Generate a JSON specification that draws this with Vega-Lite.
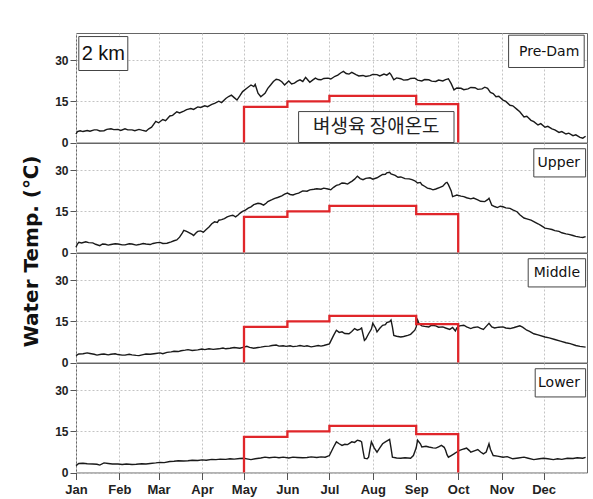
{
"$schema":"https://vega.github.io/schema/vega-lite/v6.json",
"background":"white",
"padding":{"left":20,"top":32,"right":7,"bottom":2},
"spacing":0,
"bounds":"flush",
"config":{"view":{"stroke":"#666","strokeWidth":1},"font":"Liberation Sans","concat":{"spacing":0},
 "axis":{"grid":true,"gridDash":[2,2],"gridColor":"#c4c4c4","domain":false,"tickColor":"#555","labelFont":"Liberation Sans Narrow, Liberation Sans","labelFontWeight":"bold","labelColor":"#222","title":null},
 "axisX":{"tickSize":7,"labelFontSize":13,"labelPadding":4,"labelFlush":false},
 "axisY":{"tickSize":6,"labelFontSize":12,"labelPadding":2}},
"datasets":{
"thr":[{"o":1,"d":120,"t":0},{"o":2,"d":120,"t":13},{"o":3,"d":151,"t":13},{"o":4,"d":151,"t":15},{"o":5,"d":181,"t":15},{"o":6,"d":181,"t":17},{"o":7,"d":243,"t":17},{"o":8,"d":243,"t":14},{"o":9,"d":273,"t":14},{"o":10,"d":273,"t":0}],
"obs":[
{"s":"Pre-Dam","d":0,"t":3.1},{"s":"Pre-Dam","d":1,"t":4.0},{"s":"Pre-Dam","d":3,"t":4.3},{"s":"Pre-Dam","d":5,"t":4.0},{"s":"Pre-Dam","d":8,"t":4.4},{"s":"Pre-Dam","d":10,"t":4.1},{"s":"Pre-Dam","d":13,"t":4.6},{"s":"Pre-Dam","d":15,"t":4.6},{"s":"Pre-Dam","d":17,"t":4.2},{"s":"Pre-Dam","d":20,"t":4.3},{"s":"Pre-Dam","d":22,"t":4.8},{"s":"Pre-Dam","d":25,"t":5.0},{"s":"Pre-Dam","d":27,"t":4.7},{"s":"Pre-Dam","d":30,"t":4.8},{"s":"Pre-Dam","d":32,"t":4.4},{"s":"Pre-Dam","d":35,"t":5.0},{"s":"Pre-Dam","d":37,"t":4.6},{"s":"Pre-Dam","d":40,"t":4.6},{"s":"Pre-Dam","d":42,"t":4.3},{"s":"Pre-Dam","d":45,"t":4.8},{"s":"Pre-Dam","d":47,"t":4.5},{"s":"Pre-Dam","d":50,"t":4.1},{"s":"Pre-Dam","d":52,"t":5.0},{"s":"Pre-Dam","d":54,"t":5.6},{"s":"Pre-Dam","d":57,"t":7.7},{"s":"Pre-Dam","d":59,"t":7.2},{"s":"Pre-Dam","d":62,"t":8.4},{"s":"Pre-Dam","d":64,"t":8.0},{"s":"Pre-Dam","d":67,"t":9.7},{"s":"Pre-Dam","d":69,"t":9.9},{"s":"Pre-Dam","d":72,"t":11.2},{"s":"Pre-Dam","d":74,"t":10.8},{"s":"Pre-Dam","d":77,"t":11.5},{"s":"Pre-Dam","d":79,"t":12.0},{"s":"Pre-Dam","d":82,"t":12.4},{"s":"Pre-Dam","d":84,"t":12.1},{"s":"Pre-Dam","d":87,"t":13.0},{"s":"Pre-Dam","d":89,"t":12.8},{"s":"Pre-Dam","d":92,"t":13.4},{"s":"Pre-Dam","d":94,"t":13.1},{"s":"Pre-Dam","d":97,"t":13.9},{"s":"Pre-Dam","d":99,"t":14.3},{"s":"Pre-Dam","d":102,"t":15.1},{"s":"Pre-Dam","d":104,"t":14.6},{"s":"Pre-Dam","d":107,"t":16.1},{"s":"Pre-Dam","d":109,"t":16.8},{"s":"Pre-Dam","d":111,"t":17.3},{"s":"Pre-Dam","d":113,"t":16.4},{"s":"Pre-Dam","d":115,"t":15.5},{"s":"Pre-Dam","d":117,"t":17.0},{"s":"Pre-Dam","d":119,"t":18.6},{"s":"Pre-Dam","d":122,"t":19.8},{"s":"Pre-Dam","d":125,"t":21.0},{"s":"Pre-Dam","d":127,"t":20.4},{"s":"Pre-Dam","d":128,"t":21.2},{"s":"Pre-Dam","d":130,"t":18.0},{"s":"Pre-Dam","d":132,"t":16.7},{"s":"Pre-Dam","d":135,"t":18.0},{"s":"Pre-Dam","d":137,"t":19.8},{"s":"Pre-Dam","d":139,"t":21.0},{"s":"Pre-Dam","d":141,"t":22.3},{"s":"Pre-Dam","d":143,"t":23.1},{"s":"Pre-Dam","d":145,"t":22.9},{"s":"Pre-Dam","d":147,"t":22.2},{"s":"Pre-Dam","d":149,"t":21.0},{"s":"Pre-Dam","d":151,"t":22.0},{"s":"Pre-Dam","d":152,"t":22.5},{"s":"Pre-Dam","d":154,"t":21.4},{"s":"Pre-Dam","d":156,"t":21.7},{"s":"Pre-Dam","d":158,"t":22.4},{"s":"Pre-Dam","d":160,"t":22.9},{"s":"Pre-Dam","d":162,"t":22.3},{"s":"Pre-Dam","d":164,"t":23.8},{"s":"Pre-Dam","d":165,"t":23.2},{"s":"Pre-Dam","d":167,"t":22.0},{"s":"Pre-Dam","d":169,"t":22.8},{"s":"Pre-Dam","d":171,"t":23.5},{"s":"Pre-Dam","d":173,"t":23.0},{"s":"Pre-Dam","d":175,"t":22.9},{"s":"Pre-Dam","d":177,"t":23.4},{"s":"Pre-Dam","d":180,"t":23.5},{"s":"Pre-Dam","d":182,"t":23.2},{"s":"Pre-Dam","d":185,"t":24.2},{"s":"Pre-Dam","d":187,"t":24.6},{"s":"Pre-Dam","d":189,"t":25.4},{"s":"Pre-Dam","d":191,"t":26.0},{"s":"Pre-Dam","d":193,"t":25.2},{"s":"Pre-Dam","d":195,"t":25.0},{"s":"Pre-Dam","d":197,"t":25.6},{"s":"Pre-Dam","d":200,"t":24.8},{"s":"Pre-Dam","d":202,"t":24.3},{"s":"Pre-Dam","d":205,"t":24.5},{"s":"Pre-Dam","d":207,"t":24.1},{"s":"Pre-Dam","d":210,"t":24.4},{"s":"Pre-Dam","d":212,"t":24.9},{"s":"Pre-Dam","d":215,"t":24.8},{"s":"Pre-Dam","d":217,"t":24.3},{"s":"Pre-Dam","d":220,"t":25.0},{"s":"Pre-Dam","d":222,"t":24.6},{"s":"Pre-Dam","d":224,"t":25.4},{"s":"Pre-Dam","d":225,"t":24.8},{"s":"Pre-Dam","d":227,"t":22.9},{"s":"Pre-Dam","d":229,"t":23.6},{"s":"Pre-Dam","d":232,"t":23.3},{"s":"Pre-Dam","d":234,"t":22.8},{"s":"Pre-Dam","d":237,"t":22.9},{"s":"Pre-Dam","d":239,"t":23.4},{"s":"Pre-Dam","d":242,"t":23.5},{"s":"Pre-Dam","d":244,"t":22.8},{"s":"Pre-Dam","d":247,"t":22.5},{"s":"Pre-Dam","d":249,"t":23.0},{"s":"Pre-Dam","d":252,"t":22.9},{"s":"Pre-Dam","d":254,"t":22.4},{"s":"Pre-Dam","d":257,"t":22.3},{"s":"Pre-Dam","d":259,"t":22.8},{"s":"Pre-Dam","d":262,"t":22.5},{"s":"Pre-Dam","d":264,"t":23.0},{"s":"Pre-Dam","d":266,"t":23.3},{"s":"Pre-Dam","d":268,"t":21.5},{"s":"Pre-Dam","d":270,"t":19.2},{"s":"Pre-Dam","d":272,"t":19.9},{"s":"Pre-Dam","d":275,"t":19.8},{"s":"Pre-Dam","d":277,"t":19.3},{"s":"Pre-Dam","d":280,"t":19.6},{"s":"Pre-Dam","d":282,"t":20.1},{"s":"Pre-Dam","d":285,"t":20.0},{"s":"Pre-Dam","d":287,"t":19.4},{"s":"Pre-Dam","d":290,"t":19.6},{"s":"Pre-Dam","d":292,"t":20.2},{"s":"Pre-Dam","d":294,"t":19.8},{"s":"Pre-Dam","d":296,"t":18.3},{"s":"Pre-Dam","d":298,"t":17.9},{"s":"Pre-Dam","d":300,"t":16.7},{"s":"Pre-Dam","d":302,"t":16.9},{"s":"Pre-Dam","d":305,"t":15.5},{"s":"Pre-Dam","d":307,"t":15.0},{"s":"Pre-Dam","d":310,"t":13.6},{"s":"Pre-Dam","d":312,"t":13.4},{"s":"Pre-Dam","d":315,"t":12.1},{"s":"Pre-Dam","d":317,"t":11.2},{"s":"Pre-Dam","d":320,"t":9.3},{"s":"Pre-Dam","d":322,"t":9.6},{"s":"Pre-Dam","d":325,"t":8.1},{"s":"Pre-Dam","d":327,"t":7.6},{"s":"Pre-Dam","d":330,"t":6.4},{"s":"Pre-Dam","d":332,"t":6.9},{"s":"Pre-Dam","d":335,"t":5.6},{"s":"Pre-Dam","d":337,"t":5.9},{"s":"Pre-Dam","d":340,"t":5.0},{"s":"Pre-Dam","d":342,"t":4.6},{"s":"Pre-Dam","d":345,"t":3.7},{"s":"Pre-Dam","d":347,"t":4.0},{"s":"Pre-Dam","d":350,"t":3.1},{"s":"Pre-Dam","d":352,"t":3.4},{"s":"Pre-Dam","d":355,"t":2.5},{"s":"Pre-Dam","d":357,"t":2.8},{"s":"Pre-Dam","d":360,"t":1.9},{"s":"Pre-Dam","d":362,"t":1.6},{"s":"Pre-Dam","d":364,"t":2.3},
{"s":"Upper","d":0,"t":1.9},{"s":"Upper","d":1,"t":3.1},{"s":"Upper","d":2,"t":3.7},{"s":"Upper","d":4,"t":3.5},{"s":"Upper","d":7,"t":3.9},{"s":"Upper","d":9,"t":3.6},{"s":"Upper","d":12,"t":3.5},{"s":"Upper","d":14,"t":3.0},{"s":"Upper","d":17,"t":2.5},{"s":"Upper","d":19,"t":3.1},{"s":"Upper","d":21,"t":3.0},{"s":"Upper","d":23,"t":2.7},{"s":"Upper","d":25,"t":2.9},{"s":"Upper","d":28,"t":3.2},{"s":"Upper","d":30,"t":3.1},{"s":"Upper","d":33,"t":2.8},{"s":"Upper","d":35,"t":2.8},{"s":"Upper","d":38,"t":3.2},{"s":"Upper","d":40,"t":3.1},{"s":"Upper","d":43,"t":2.7},{"s":"Upper","d":45,"t":2.9},{"s":"Upper","d":48,"t":3.3},{"s":"Upper","d":50,"t":3.1},{"s":"Upper","d":53,"t":2.9},{"s":"Upper","d":55,"t":3.3},{"s":"Upper","d":58,"t":3.6},{"s":"Upper","d":60,"t":3.7},{"s":"Upper","d":62,"t":3.3},{"s":"Upper","d":65,"t":3.4},{"s":"Upper","d":68,"t":3.9},{"s":"Upper","d":70,"t":4.3},{"s":"Upper","d":72,"t":4.6},{"s":"Upper","d":74,"t":5.6},{"s":"Upper","d":76,"t":7.2},{"s":"Upper","d":77,"t":8.1},{"s":"Upper","d":79,"t":7.7},{"s":"Upper","d":81,"t":7.2},{"s":"Upper","d":83,"t":6.6},{"s":"Upper","d":84,"t":6.2},{"s":"Upper","d":86,"t":7.3},{"s":"Upper","d":87,"t":7.7},{"s":"Upper","d":89,"t":7.9},{"s":"Upper","d":91,"t":7.4},{"s":"Upper","d":93,"t":8.4},{"s":"Upper","d":95,"t":9.3},{"s":"Upper","d":97,"t":10.5},{"s":"Upper","d":99,"t":11.2},{"s":"Upper","d":101,"t":11.0},{"s":"Upper","d":102,"t":11.8},{"s":"Upper","d":104,"t":12.0},{"s":"Upper","d":106,"t":12.4},{"s":"Upper","d":108,"t":13.0},{"s":"Upper","d":110,"t":13.4},{"s":"Upper","d":112,"t":13.6},{"s":"Upper","d":114,"t":13.0},{"s":"Upper","d":116,"t":13.8},{"s":"Upper","d":117,"t":14.3},{"s":"Upper","d":119,"t":15.0},{"s":"Upper","d":121,"t":15.5},{"s":"Upper","d":123,"t":16.2},{"s":"Upper","d":125,"t":16.7},{"s":"Upper","d":127,"t":17.5},{"s":"Upper","d":130,"t":18.0},{"s":"Upper","d":132,"t":17.8},{"s":"Upper","d":134,"t":17.3},{"s":"Upper","d":136,"t":18.1},{"s":"Upper","d":137,"t":18.6},{"s":"Upper","d":140,"t":19.3},{"s":"Upper","d":142,"t":19.8},{"s":"Upper","d":144,"t":20.1},{"s":"Upper","d":147,"t":20.7},{"s":"Upper","d":149,"t":21.3},{"s":"Upper","d":151,"t":21.7},{"s":"Upper","d":153,"t":21.2},{"s":"Upper","d":155,"t":21.0},{"s":"Upper","d":157,"t":21.4},{"s":"Upper","d":159,"t":21.7},{"s":"Upper","d":161,"t":22.2},{"s":"Upper","d":162,"t":22.5},{"s":"Upper","d":165,"t":22.4},{"s":"Upper","d":167,"t":22.9},{"s":"Upper","d":170,"t":23.1},{"s":"Upper","d":172,"t":23.3},{"s":"Upper","d":175,"t":23.1},{"s":"Upper","d":177,"t":23.5},{"s":"Upper","d":180,"t":23.2},{"s":"Upper","d":182,"t":22.9},{"s":"Upper","d":184,"t":23.8},{"s":"Upper","d":186,"t":24.5},{"s":"Upper","d":188,"t":24.8},{"s":"Upper","d":190,"t":25.4},{"s":"Upper","d":192,"t":25.3},{"s":"Upper","d":194,"t":25.0},{"s":"Upper","d":196,"t":25.7},{"s":"Upper","d":197,"t":26.0},{"s":"Upper","d":199,"t":26.8},{"s":"Upper","d":201,"t":27.9},{"s":"Upper","d":203,"t":27.0},{"s":"Upper","d":205,"t":26.6},{"s":"Upper","d":207,"t":27.1},{"s":"Upper","d":210,"t":27.3},{"s":"Upper","d":212,"t":26.8},{"s":"Upper","d":215,"t":27.3},{"s":"Upper","d":217,"t":27.9},{"s":"Upper","d":219,"t":28.5},{"s":"Upper","d":221,"t":28.6},{"s":"Upper","d":222,"t":29.1},{"s":"Upper","d":224,"t":29.3},{"s":"Upper","d":225,"t":28.7},{"s":"Upper","d":228,"t":28.2},{"s":"Upper","d":230,"t":27.5},{"s":"Upper","d":232,"t":27.6},{"s":"Upper","d":235,"t":27.0},{"s":"Upper","d":238,"t":26.9},{"s":"Upper","d":240,"t":26.6},{"s":"Upper","d":242,"t":26.2},{"s":"Upper","d":244,"t":25.4},{"s":"Upper","d":246,"t":25.6},{"s":"Upper","d":247,"t":24.8},{"s":"Upper","d":249,"t":24.2},{"s":"Upper","d":251,"t":23.5},{"s":"Upper","d":253,"t":23.3},{"s":"Upper","d":255,"t":22.9},{"s":"Upper","d":257,"t":23.2},{"s":"Upper","d":260,"t":23.8},{"s":"Upper","d":262,"t":24.2},{"s":"Upper","d":264,"t":25.4},{"s":"Upper","d":265,"t":25.6},{"s":"Upper","d":266,"t":24.8},{"s":"Upper","d":268,"t":22.5},{"s":"Upper","d":269,"t":20.4},{"s":"Upper","d":271,"t":20.8},{"s":"Upper","d":272,"t":21.0},{"s":"Upper","d":275,"t":20.6},{"s":"Upper","d":277,"t":20.4},{"s":"Upper","d":279,"t":20.0},{"s":"Upper","d":282,"t":19.6},{"s":"Upper","d":284,"t":19.9},{"s":"Upper","d":287,"t":19.2},{"s":"Upper","d":289,"t":18.7},{"s":"Upper","d":292,"t":18.6},{"s":"Upper","d":294,"t":19.3},{"s":"Upper","d":295,"t":19.8},{"s":"Upper","d":297,"t":17.3},{"s":"Upper","d":299,"t":16.8},{"s":"Upper","d":301,"t":16.4},{"s":"Upper","d":303,"t":16.9},{"s":"Upper","d":305,"t":16.7},{"s":"Upper","d":307,"t":16.3},{"s":"Upper","d":310,"t":16.1},{"s":"Upper","d":312,"t":15.6},{"s":"Upper","d":315,"t":14.9},{"s":"Upper","d":317,"t":13.8},{"s":"Upper","d":320,"t":12.6},{"s":"Upper","d":322,"t":12.3},{"s":"Upper","d":325,"t":11.8},{"s":"Upper","d":327,"t":11.3},{"s":"Upper","d":330,"t":10.5},{"s":"Upper","d":332,"t":9.9},{"s":"Upper","d":335,"t":8.9},{"s":"Upper","d":337,"t":8.7},{"s":"Upper","d":340,"t":8.4},{"s":"Upper","d":342,"t":8.0},{"s":"Upper","d":345,"t":7.7},{"s":"Upper","d":347,"t":7.2},{"s":"Upper","d":350,"t":6.8},{"s":"Upper","d":352,"t":6.6},{"s":"Upper","d":355,"t":6.2},{"s":"Upper","d":357,"t":5.9},{"s":"Upper","d":360,"t":5.6},{"s":"Upper","d":362,"t":5.5},{"s":"Upper","d":364,"t":5.8},
{"s":"Middle","d":0,"t":2.5},{"s":"Middle","d":2,"t":3.1},{"s":"Middle","d":5,"t":3.2},{"s":"Middle","d":8,"t":3.5},{"s":"Middle","d":10,"t":3.3},{"s":"Middle","d":13,"t":3.0},{"s":"Middle","d":15,"t":2.7},{"s":"Middle","d":18,"t":3.0},{"s":"Middle","d":20,"t":3.1},{"s":"Middle","d":23,"t":2.8},{"s":"Middle","d":25,"t":3.0},{"s":"Middle","d":28,"t":3.2},{"s":"Middle","d":30,"t":2.9},{"s":"Middle","d":33,"t":2.7},{"s":"Middle","d":35,"t":2.7},{"s":"Middle","d":38,"t":3.0},{"s":"Middle","d":40,"t":2.8},{"s":"Middle","d":43,"t":2.6},{"s":"Middle","d":45,"t":2.5},{"s":"Middle","d":48,"t":2.9},{"s":"Middle","d":50,"t":3.1},{"s":"Middle","d":53,"t":3.0},{"s":"Middle","d":57,"t":3.3},{"s":"Middle","d":60,"t":3.5},{"s":"Middle","d":62,"t":3.2},{"s":"Middle","d":65,"t":3.7},{"s":"Middle","d":68,"t":3.9},{"s":"Middle","d":70,"t":4.1},{"s":"Middle","d":73,"t":4.0},{"s":"Middle","d":75,"t":4.3},{"s":"Middle","d":78,"t":4.5},{"s":"Middle","d":80,"t":4.7},{"s":"Middle","d":83,"t":4.4},{"s":"Middle","d":87,"t":4.6},{"s":"Middle","d":90,"t":4.9},{"s":"Middle","d":92,"t":4.7},{"s":"Middle","d":95,"t":5.0},{"s":"Middle","d":98,"t":4.8},{"s":"Middle","d":102,"t":5.0},{"s":"Middle","d":105,"t":5.3},{"s":"Middle","d":107,"t":5.0},{"s":"Middle","d":110,"t":5.2},{"s":"Middle","d":113,"t":5.5},{"s":"Middle","d":117,"t":5.2},{"s":"Middle","d":120,"t":5.6},{"s":"Middle","d":122,"t":5.9},{"s":"Middle","d":124,"t":5.5},{"s":"Middle","d":127,"t":5.2},{"s":"Middle","d":130,"t":5.5},{"s":"Middle","d":132,"t":5.6},{"s":"Middle","d":135,"t":5.9},{"s":"Middle","d":138,"t":6.0},{"s":"Middle","d":140,"t":6.2},{"s":"Middle","d":143,"t":6.4},{"s":"Middle","d":145,"t":6.0},{"s":"Middle","d":148,"t":6.1},{"s":"Middle","d":150,"t":5.9},{"s":"Middle","d":153,"t":6.1},{"s":"Middle","d":155,"t":5.8},{"s":"Middle","d":158,"t":6.0},{"s":"Middle","d":160,"t":6.2},{"s":"Middle","d":163,"t":5.9},{"s":"Middle","d":165,"t":6.1},{"s":"Middle","d":168,"t":5.7},{"s":"Middle","d":170,"t":5.9},{"s":"Middle","d":173,"t":6.2},{"s":"Middle","d":175,"t":6.0},{"s":"Middle","d":177,"t":6.2},{"s":"Middle","d":181,"t":6.8},{"s":"Middle","d":184,"t":9.9},{"s":"Middle","d":186,"t":11.8},{"s":"Middle","d":188,"t":11.0},{"s":"Middle","d":190,"t":11.2},{"s":"Middle","d":192,"t":10.6},{"s":"Middle","d":195,"t":10.5},{"s":"Middle","d":197,"t":11.3},{"s":"Middle","d":199,"t":12.4},{"s":"Middle","d":201,"t":11.8},{"s":"Middle","d":203,"t":12.2},{"s":"Middle","d":204,"t":12.6},{"s":"Middle","d":206,"t":8.1},{"s":"Middle","d":207,"t":8.6},{"s":"Middle","d":209,"t":10.5},{"s":"Middle","d":211,"t":12.2},{"s":"Middle","d":212,"t":14.3},{"s":"Middle","d":214,"t":12.6},{"s":"Middle","d":215,"t":11.2},{"s":"Middle","d":217,"t":12.5},{"s":"Middle","d":219,"t":13.6},{"s":"Middle","d":221,"t":13.8},{"s":"Middle","d":222,"t":14.6},{"s":"Middle","d":224,"t":14.9},{"s":"Middle","d":225,"t":15.5},{"s":"Middle","d":226,"t":13.0},{"s":"Middle","d":227,"t":9.9},{"s":"Middle","d":229,"t":9.6},{"s":"Middle","d":232,"t":9.3},{"s":"Middle","d":234,"t":9.5},{"s":"Middle","d":237,"t":9.9},{"s":"Middle","d":239,"t":10.3},{"s":"Middle","d":242,"t":11.8},{"s":"Middle","d":243,"t":13.0},{"s":"Middle","d":244,"t":15.5},{"s":"Middle","d":245,"t":14.2},{"s":"Middle","d":247,"t":13.4},{"s":"Middle","d":249,"t":13.2},{"s":"Middle","d":252,"t":13.0},{"s":"Middle","d":254,"t":13.6},{"s":"Middle","d":257,"t":13.4},{"s":"Middle","d":259,"t":12.9},{"s":"Middle","d":262,"t":13.0},{"s":"Middle","d":264,"t":12.6},{"s":"Middle","d":267,"t":12.1},{"s":"Middle","d":269,"t":12.8},{"s":"Middle","d":271,"t":11.5},{"s":"Middle","d":272,"t":12.6},{"s":"Middle","d":274,"t":13.4},{"s":"Middle","d":277,"t":13.6},{"s":"Middle","d":279,"t":13.0},{"s":"Middle","d":282,"t":12.4},{"s":"Middle","d":284,"t":12.8},{"s":"Middle","d":287,"t":13.0},{"s":"Middle","d":289,"t":12.5},{"s":"Middle","d":291,"t":12.1},{"s":"Middle","d":293,"t":13.2},{"s":"Middle","d":295,"t":14.3},{"s":"Middle","d":297,"t":13.0},{"s":"Middle","d":299,"t":12.6},{"s":"Middle","d":302,"t":12.9},{"s":"Middle","d":305,"t":13.0},{"s":"Middle","d":307,"t":12.6},{"s":"Middle","d":310,"t":12.4},{"s":"Middle","d":313,"t":12.8},{"s":"Middle","d":317,"t":13.4},{"s":"Middle","d":319,"t":12.9},{"s":"Middle","d":322,"t":11.8},{"s":"Middle","d":324,"t":11.4},{"s":"Middle","d":327,"t":10.5},{"s":"Middle","d":330,"t":10.1},{"s":"Middle","d":335,"t":9.3},{"s":"Middle","d":338,"t":9.0},{"s":"Middle","d":342,"t":8.4},{"s":"Middle","d":346,"t":7.8},{"s":"Middle","d":350,"t":7.2},{"s":"Middle","d":353,"t":6.9},{"s":"Middle","d":357,"t":6.2},{"s":"Middle","d":360,"t":5.9},{"s":"Middle","d":364,"t":5.6},
{"s":"Lower","d":0,"t":2.5},{"s":"Lower","d":2,"t":3.3},{"s":"Lower","d":5,"t":3.4},{"s":"Lower","d":8,"t":3.2},{"s":"Lower","d":12,"t":3.1},{"s":"Lower","d":15,"t":3.0},{"s":"Lower","d":17,"t":2.7},{"s":"Lower","d":20,"t":3.5},{"s":"Lower","d":23,"t":3.3},{"s":"Lower","d":26,"t":3.1},{"s":"Lower","d":30,"t":3.1},{"s":"Lower","d":33,"t":2.9},{"s":"Lower","d":36,"t":3.1},{"s":"Lower","d":40,"t":2.9},{"s":"Lower","d":43,"t":3.0},{"s":"Lower","d":47,"t":3.2},{"s":"Lower","d":50,"t":3.1},{"s":"Lower","d":53,"t":3.3},{"s":"Lower","d":57,"t":3.5},{"s":"Lower","d":60,"t":3.7},{"s":"Lower","d":63,"t":3.6},{"s":"Lower","d":67,"t":4.0},{"s":"Lower","d":70,"t":4.1},{"s":"Lower","d":73,"t":4.3},{"s":"Lower","d":77,"t":4.2},{"s":"Lower","d":80,"t":4.3},{"s":"Lower","d":83,"t":4.5},{"s":"Lower","d":87,"t":4.4},{"s":"Lower","d":90,"t":4.6},{"s":"Lower","d":93,"t":4.5},{"s":"Lower","d":97,"t":4.8},{"s":"Lower","d":100,"t":4.7},{"s":"Lower","d":103,"t":4.9},{"s":"Lower","d":107,"t":4.8},{"s":"Lower","d":110,"t":5.0},{"s":"Lower","d":113,"t":4.9},{"s":"Lower","d":117,"t":5.1},{"s":"Lower","d":120,"t":5.2},{"s":"Lower","d":122,"t":5.0},{"s":"Lower","d":125,"t":4.7},{"s":"Lower","d":128,"t":5.0},{"s":"Lower","d":132,"t":5.3},{"s":"Lower","d":135,"t":5.6},{"s":"Lower","d":138,"t":5.4},{"s":"Lower","d":142,"t":5.6},{"s":"Lower","d":145,"t":5.4},{"s":"Lower","d":148,"t":5.6},{"s":"Lower","d":152,"t":5.3},{"s":"Lower","d":155,"t":5.6},{"s":"Lower","d":158,"t":5.5},{"s":"Lower","d":162,"t":5.4},{"s":"Lower","d":165,"t":5.5},{"s":"Lower","d":168,"t":5.7},{"s":"Lower","d":172,"t":5.5},{"s":"Lower","d":175,"t":5.7},{"s":"Lower","d":178,"t":5.6},{"s":"Lower","d":181,"t":6.2},{"s":"Lower","d":184,"t":9.3},{"s":"Lower","d":186,"t":11.2},{"s":"Lower","d":188,"t":10.5},{"s":"Lower","d":190,"t":9.9},{"s":"Lower","d":192,"t":10.3},{"s":"Lower","d":194,"t":10.2},{"s":"Lower","d":197,"t":11.2},{"s":"Lower","d":199,"t":11.0},{"s":"Lower","d":201,"t":11.8},{"s":"Lower","d":203,"t":11.5},{"s":"Lower","d":204,"t":11.2},{"s":"Lower","d":205,"t":8.0},{"s":"Lower","d":206,"t":5.2},{"s":"Lower","d":208,"t":5.0},{"s":"Lower","d":209,"t":5.6},{"s":"Lower","d":210,"t":8.5},{"s":"Lower","d":211,"t":11.2},{"s":"Lower","d":213,"t":9.0},{"s":"Lower","d":215,"t":7.4},{"s":"Lower","d":217,"t":9.0},{"s":"Lower","d":219,"t":10.5},{"s":"Lower","d":221,"t":11.2},{"s":"Lower","d":224,"t":12.1},{"s":"Lower","d":225,"t":9.0},{"s":"Lower","d":226,"t":5.6},{"s":"Lower","d":229,"t":5.3},{"s":"Lower","d":232,"t":5.2},{"s":"Lower","d":235,"t":5.4},{"s":"Lower","d":239,"t":5.2},{"s":"Lower","d":241,"t":6.2},{"s":"Lower","d":243,"t":9.0},{"s":"Lower","d":244,"t":11.8},{"s":"Lower","d":246,"t":10.5},{"s":"Lower","d":247,"t":9.3},{"s":"Lower","d":250,"t":9.6},{"s":"Lower","d":252,"t":9.3},{"s":"Lower","d":255,"t":9.0},{"s":"Lower","d":257,"t":8.9},{"s":"Lower","d":259,"t":9.4},{"s":"Lower","d":261,"t":9.9},{"s":"Lower","d":263,"t":9.2},{"s":"Lower","d":264,"t":8.1},{"s":"Lower","d":265,"t":6.5},{"s":"Lower","d":266,"t":5.6},{"s":"Lower","d":268,"t":6.2},{"s":"Lower","d":270,"t":6.8},{"s":"Lower","d":272,"t":7.5},{"s":"Lower","d":274,"t":8.1},{"s":"Lower","d":277,"t":8.6},{"s":"Lower","d":279,"t":8.9},{"s":"Lower","d":281,"t":8.0},{"s":"Lower","d":282,"t":7.4},{"s":"Lower","d":285,"t":8.0},{"s":"Lower","d":287,"t":8.4},{"s":"Lower","d":289,"t":7.5},{"s":"Lower","d":291,"t":6.8},{"s":"Lower","d":293,"t":7.5},{"s":"Lower","d":295,"t":10.5},{"s":"Lower","d":296,"t":8.5},{"s":"Lower","d":298,"t":6.2},{"s":"Lower","d":301,"t":6.0},{"s":"Lower","d":305,"t":5.6},{"s":"Lower","d":308,"t":5.8},{"s":"Lower","d":312,"t":5.0},{"s":"Lower","d":316,"t":5.3},{"s":"Lower","d":320,"t":5.6},{"s":"Lower","d":323,"t":5.2},{"s":"Lower","d":327,"t":4.7},{"s":"Lower","d":331,"t":5.0},{"s":"Lower","d":334,"t":5.2},{"s":"Lower","d":337,"t":5.0},{"s":"Lower","d":341,"t":4.7},{"s":"Lower","d":344,"t":5.0},{"s":"Lower","d":347,"t":4.8},{"s":"Lower","d":351,"t":5.2},{"s":"Lower","d":355,"t":5.1},{"s":"Lower","d":358,"t":5.4},{"s":"Lower","d":362,"t":5.2},{"s":"Lower","d":364,"t":5.5}
]},
"vconcat":[
 {"width":511,"height":109.5,
  "layer":[
   {"data":{"name":"obs"},"transform":[{"filter":"datum.s=='Pre-Dam'"}],"mark":{"type":"line","color":"#1a1a1a","strokeWidth":1.4},
    "encoding":{"x":{"field":"d","type":"quantitative","scale":{"domain":[0,365],"nice":false,"zero":false},"axis":{"values":[0,31,59,90,120,151,181,212,243,273,304,334],"labels":false,"ticks":false,"tickSize":0,"labelPadding":0}},
     "y":{"field":"t","type":"quantitative","scale":{"domain":[0,40],"nice":false},"axis":{"values":[0,15,30]}}}},
   {"data":{"name":"thr"},"mark":{"type":"line","color":"#e0262a","strokeWidth":2.3},"encoding":{"x":{"field":"d","type":"quantitative"},"y":{"field":"t","type":"quantitative"},"order":{"field":"o","type":"quantitative"}}},
   {"data":{"values":[{"txt":"Pre-Dam"}]},"mark":{"type":"rect","fill":"white","stroke":"#444","strokeWidth":1},
    "encoding":{"x":{"datum":309,"type":"quantitative"},"x2":{"datum":363},"y":{"datum":27.4,"type":"quantitative"},"y2":{"datum":39.2}}},
   {"data":{"values":[{"txt":"Pre-Dam"}]},"mark":{"type":"text","align":"right","baseline":"middle","font":"DejaVu Sans","fontSize":14,"color":"#111"},
    "encoding":{"x":{"datum":359.5,"type":"quantitative"},"y":{"datum":33.2,"type":"quantitative"},"text":{"field":"txt"}}},
   {"data":{"values":[{"txt":"2 km"}]},"mark":{"type":"rect","fill":"white","stroke":"#444","strokeWidth":1},
    "encoding":{"x":{"datum":2,"type":"quantitative"},"x2":{"datum":37},"y":{"datum":26.3,"type":"quantitative"},"y2":{"datum":38.7}}},
   {"data":{"values":[{"txt":"2 km"}]},"mark":{"type":"text","align":"center","baseline":"middle","font":"Liberation Sans","fontSize":20,"color":"#111"},
    "encoding":{"x":{"datum":19.5,"type":"quantitative"},"y":{"datum":32.5,"type":"quantitative"},"text":{"field":"txt"}}},
   {"data":{"values":[{"txt":"벼생육 장애온도"}]},"mark":{"type":"rect","fill":"white","stroke":"#444","strokeWidth":1},
    "encoding":{"x":{"datum":159,"type":"quantitative"},"x2":{"datum":270},"y":{"datum":0,"type":"quantitative"},"y2":{"datum":11.3}}},
   {"data":{"values":[{"txt":"벼생육 장애온도"}]},"mark":{"type":"text","align":"center","baseline":"middle","font":"Noto Sans CJK KR","fontSize":19,"color":"#222"},
    "encoding":{"x":{"datum":214.5,"type":"quantitative"},"y":{"datum":5.6,"type":"quantitative"},"text":{"field":"txt"}}}
  ]},
 {"width":511,"height":109.5,
  "layer":[
   {"data":{"name":"obs"},"transform":[{"filter":"datum.s=='Upper'"}],"mark":{"type":"line","color":"#1a1a1a","strokeWidth":1.4},
    "encoding":{"x":{"field":"d","type":"quantitative","scale":{"domain":[0,365],"nice":false,"zero":false},"axis":{"values":[0,31,59,90,120,151,181,212,243,273,304,334],"labels":false,"ticks":false,"tickSize":0,"labelPadding":0}},
     "y":{"field":"t","type":"quantitative","scale":{"domain":[0,40],"nice":false},"axis":{"values":[0,15,30],"title":"Water Temp. (℃)","titleX":-45,"titleY":108,"titleAngle":270,"titleAlign":"center","titleBaseline":"middle","titleFont":"DejaVu Sans","titleFontSize":20,"titleFontWeight":"bold","titleColor":"#111"}}}},
   {"data":{"name":"thr"},"mark":{"type":"line","color":"#e0262a","strokeWidth":2.3},"encoding":{"x":{"field":"d","type":"quantitative"},"y":{"field":"t","type":"quantitative"},"order":{"field":"o","type":"quantitative"}}},
   {"data":{"values":[{"txt":"Upper"}]},"mark":{"type":"rect","fill":"white","stroke":"#444","strokeWidth":1},
    "encoding":{"x":{"datum":327,"type":"quantitative"},"x2":{"datum":364},"y":{"datum":27.6,"type":"quantitative"},"y2":{"datum":37.9}}},
   {"data":{"values":[{"txt":"Upper"}]},"mark":{"type":"text","align":"right","baseline":"middle","font":"DejaVu Sans","fontSize":14,"color":"#111"},
    "encoding":{"x":{"datum":360,"type":"quantitative"},"y":{"datum":32.7,"type":"quantitative"},"text":{"field":"txt"}}}
  ]},
 {"width":511,"height":109.5,
  "layer":[
   {"data":{"name":"obs"},"transform":[{"filter":"datum.s=='Middle'"}],"mark":{"type":"line","color":"#1a1a1a","strokeWidth":1.4},
    "encoding":{"x":{"field":"d","type":"quantitative","scale":{"domain":[0,365],"nice":false,"zero":false},"axis":{"values":[0,31,59,90,120,151,181,212,243,273,304,334],"labels":false,"ticks":false,"tickSize":0,"labelPadding":0}},
     "y":{"field":"t","type":"quantitative","scale":{"domain":[0,40],"nice":false},"axis":{"values":[0,15,30]}}}},
   {"data":{"name":"thr"},"mark":{"type":"line","color":"#e0262a","strokeWidth":2.3},"encoding":{"x":{"field":"d","type":"quantitative"},"y":{"field":"t","type":"quantitative"},"order":{"field":"o","type":"quantitative"}}},
   {"data":{"values":[{"txt":"Middle"}]},"mark":{"type":"rect","fill":"white","stroke":"#444","strokeWidth":1},
    "encoding":{"x":{"datum":323,"type":"quantitative"},"x2":{"datum":364},"y":{"datum":27.6,"type":"quantitative"},"y2":{"datum":37.9}}},
   {"data":{"values":[{"txt":"Middle"}]},"mark":{"type":"text","align":"right","baseline":"middle","font":"DejaVu Sans","fontSize":14,"color":"#111"},
    "encoding":{"x":{"datum":360,"type":"quantitative"},"y":{"datum":32.7,"type":"quantitative"},"text":{"field":"txt"}}}
  ]},
 {"width":511,"height":109.5,
  "layer":[
   {"data":{"name":"obs"},"transform":[{"filter":"datum.s=='Lower'"}],"mark":{"type":"line","color":"#1a1a1a","strokeWidth":1.4},
    "encoding":{"x":{"field":"d","type":"quantitative","scale":{"domain":[0,365],"nice":false,"zero":false},"axis":{"values":[0,31,59,90,120,151,181,212,243,273,304,334],
      "labelExpr":"['Jan','Feb','Mar','Apr','May','Jun','Jul','Aug','Sep','Oct','Nov','Dec'][indexof([0,31,59,90,120,151,181,212,243,273,304,334], datum.value)]"}},
     "y":{"field":"t","type":"quantitative","scale":{"domain":[0,40],"nice":false},"axis":{"values":[0,15,30]}}}},
   {"data":{"name":"thr"},"mark":{"type":"line","color":"#e0262a","strokeWidth":2.3},"encoding":{"x":{"field":"d","type":"quantitative"},"y":{"field":"t","type":"quantitative"},"order":{"field":"o","type":"quantitative"}}},
   {"data":{"values":[{"txt":"Lower"}]},"mark":{"type":"rect","fill":"white","stroke":"#444","strokeWidth":1},
    "encoding":{"x":{"datum":328,"type":"quantitative"},"x2":{"datum":364},"y":{"datum":27.6,"type":"quantitative"},"y2":{"datum":37.9}}},
   {"data":{"values":[{"txt":"Lower"}]},"mark":{"type":"text","align":"right","baseline":"middle","font":"DejaVu Sans","fontSize":14,"color":"#111"},
    "encoding":{"x":{"datum":360,"type":"quantitative"},"y":{"datum":32.7,"type":"quantitative"},"text":{"field":"txt"}}}
  ]}
]
}
